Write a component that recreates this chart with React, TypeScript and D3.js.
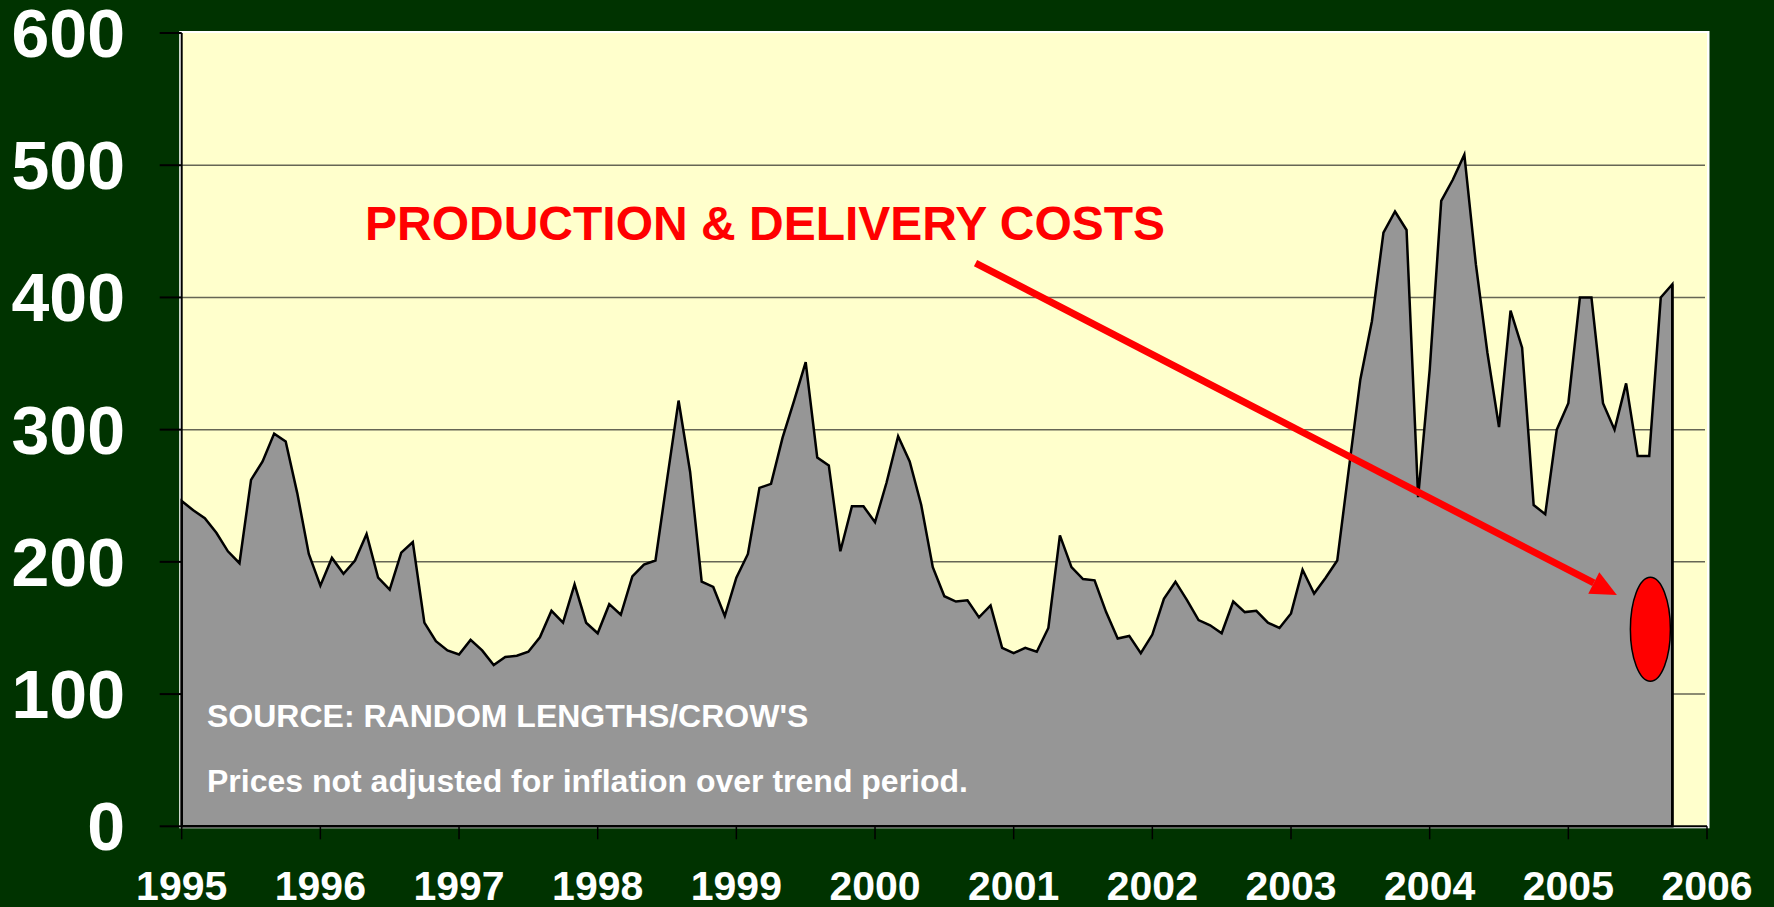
import React from "react";
import { scaleLinear, area, line } from "d3";

// monthly prices, Jan 1995 .. Oct 2005
const p1995 = [246, 239, 233, 222, 208, 199, 262, 276, 297, 291, 252, 206];
const p1996 = [182, 203, 191, 201, 221, 188, 179, 207, 215, 154, 140, 133];
const p1997 = [130, 141, 133, 122, 128, 129, 132, 143, 163, 154, 183, 154];
const p1998 = [146, 168, 160, 189, 198, 201, 262, 322, 268, 185, 181, 159];
const p1999 = [188, 206, 256, 259, 294, 322, 351, 279, 273, 208, 242, 242];
const p2000 = [230, 260, 295, 276, 243, 196, 174, 170, 171, 158, 167, 135];
const p2001 = [131, 135, 132, 150, 220, 196, 187, 186, 162, 142, 144, 131];
const p2002 = [145, 172, 185, 171, 156, 152, 146, 170, 162, 163, 154, 150];
const p2003 = [161, 194, 176, 188, 201, 270, 338, 382, 449, 465, 451, 249];
const p2004 = [345, 473, 489, 508, 425, 358, 302, 390, 362, 243, 236, 300];
const p2005 = [320, 400, 400, 320, 300, 335, 280, 280, 400, 410];

const prices = [
  ...p1995, ...p1996, ...p1997, ...p1998, ...p1999, ...p2000,
  ...p2001, ...p2002, ...p2003, ...p2004, ...p2005,
];

const yearLabels = ["1995", "1996", "1997", "1998", "1999", "2000", "2001", "2002", "2003", "2004", "2005", "2006"];
const yTicks = [0, 100, 200, 300, 400, 500, 600];

const title = "PRODUCTION & DELIVERY COSTS";
const source = "SOURCE: RANDOM LENGTHS/CROW'S";
const note = "Prices not adjusted for inflation over trend period.";

// annotation anchors in data units (month index, price)
const arrowFrom = [68.7, 426];
const arrowTo = [124.2, 175];
const marker = [127.1, 149];

const W = 1774;
const H = 907;
const left = 181.7;
const right = 1707;
const top = 33;
const bottom = 826.3;
const font = "'Liberation Sans', Arial, sans-serif";

export default function App() {
  const x = scaleLinear().domain([0, 132]).range([left, right]);
  const y = scaleLinear().domain([0, 600]).range([bottom, top]);

  const areaPath = area()
    .x((d, i) => x(i))
    .y0(bottom)
    .y1((d) => y(d))(prices);

  const lastX = x(prices.length - 1);

  // arrow
  const x1 = x(arrowFrom[0]);
  const y1 = y(arrowFrom[1]);
  const x2 = x(arrowTo[0]);
  const y2 = y(arrowTo[1]);
  const len = Math.hypot(x2 - x1, y2 - y1);
  const ux = (x2 - x1) / len;
  const uy = (y2 - y1) / len;
  const headL = 26;
  const headW = 12;
  const bx = x2 - ux * headL;
  const by = y2 - uy * headL;
  const head = [
    [x2, y2],
    [bx - uy * headW, by + ux * headW],
    [bx + uy * headW, by - ux * headW],
  ];

  return (
    <svg
      width={W}
      height={H}
      style={{ position: "absolute", left: 0, top: 0, display: "block" }}
    >
      <rect x={0} y={0} width={W} height={H} fill="#003300" />

      {/* plot frame */}
      <rect x={left - 2.5} y={top - 2} width={right - left + 5} height={bottom - top + 4} fill="#ffffff" />
      <rect x={left} y={top} width={right - left} height={bottom - top} fill="#ffffcc" />

      {/* gridlines */}
      {yTicks
        .filter((t) => t > 0 && t < 600)
        .map((t) => (
          <line key={t} x1={left} x2={right - 2} y1={y(t)} y2={y(t)} stroke="#666655" strokeWidth={1.5} />
        ))}

      {/* area */}
      <path
        d={areaPath}
        fill="#969696"
        stroke="#000"
        strokeWidth={2.5}
        strokeLinejoin="miter"
      />
      <line x1={lastX} x2={lastX} y1={y(prices[prices.length - 1])} y2={bottom} stroke="#000" strokeWidth={2.5} />

      {/* axes */}
      <line x1={left} x2={left} y1={top} y2={bottom + 1} stroke="#000" strokeWidth={2} />
      <line x1={left} x2={right} y1={bottom} y2={bottom} stroke="#000" strokeWidth={2} />

      {yTicks.map((t) => (
        <g key={t}>
          <line x1={left - 22} x2={left} y1={y(t)} y2={y(t)} stroke="#000" strokeWidth={2} />
          <text
            x={125}
            y={y(t) + 24}
            textAnchor="end"
            fill="#fff"
            fontFamily={font}
            fontWeight="bold"
            fontSize={68}
          >
            {t}
          </text>
        </g>
      ))}

      {yearLabels.map((lab, i) => (
        <g key={lab}>
          <line x1={x(i * 12)} x2={x(i * 12)} y1={bottom} y2={bottom + 13} stroke="#000" strokeWidth={1.5} />
          <text
            x={x(i * 12)}
            y={900}
            textAnchor="middle"
            fill="#fff"
            fontFamily={font}
            fontWeight="bold"
            fontSize={41}
          >
            {lab}
          </text>
        </g>
      ))}

      {/* texts inside plot */}
      <text x={207} y={727} fill="#fff" fontFamily={font} fontWeight="bold" fontSize={32}>
        {source}
      </text>
      <text x={207} y={792} fill="#fff" fontFamily={font} fontWeight="bold" fontSize={32}>
        {note}
      </text>

      <text x={365} y={240} fill="#ff0000" fontFamily={font} fontWeight="bold" fontSize={48}>
        {title}
      </text>

      {/* arrow */}
      <path d={line()([[x1, y1], [bx, by]])} stroke="#ff0000" strokeWidth={7} fill="none" />
      <polygon points={head.map((p) => p.join(",")).join(" ")} fill="#ff0000" />

      <ellipse
        cx={x(marker[0])}
        cy={y(marker[1])}
        rx={20}
        ry={52}
        fill="#ff0000"
        stroke="#000"
        strokeWidth={1.5}
      />
    </svg>
  );
}
